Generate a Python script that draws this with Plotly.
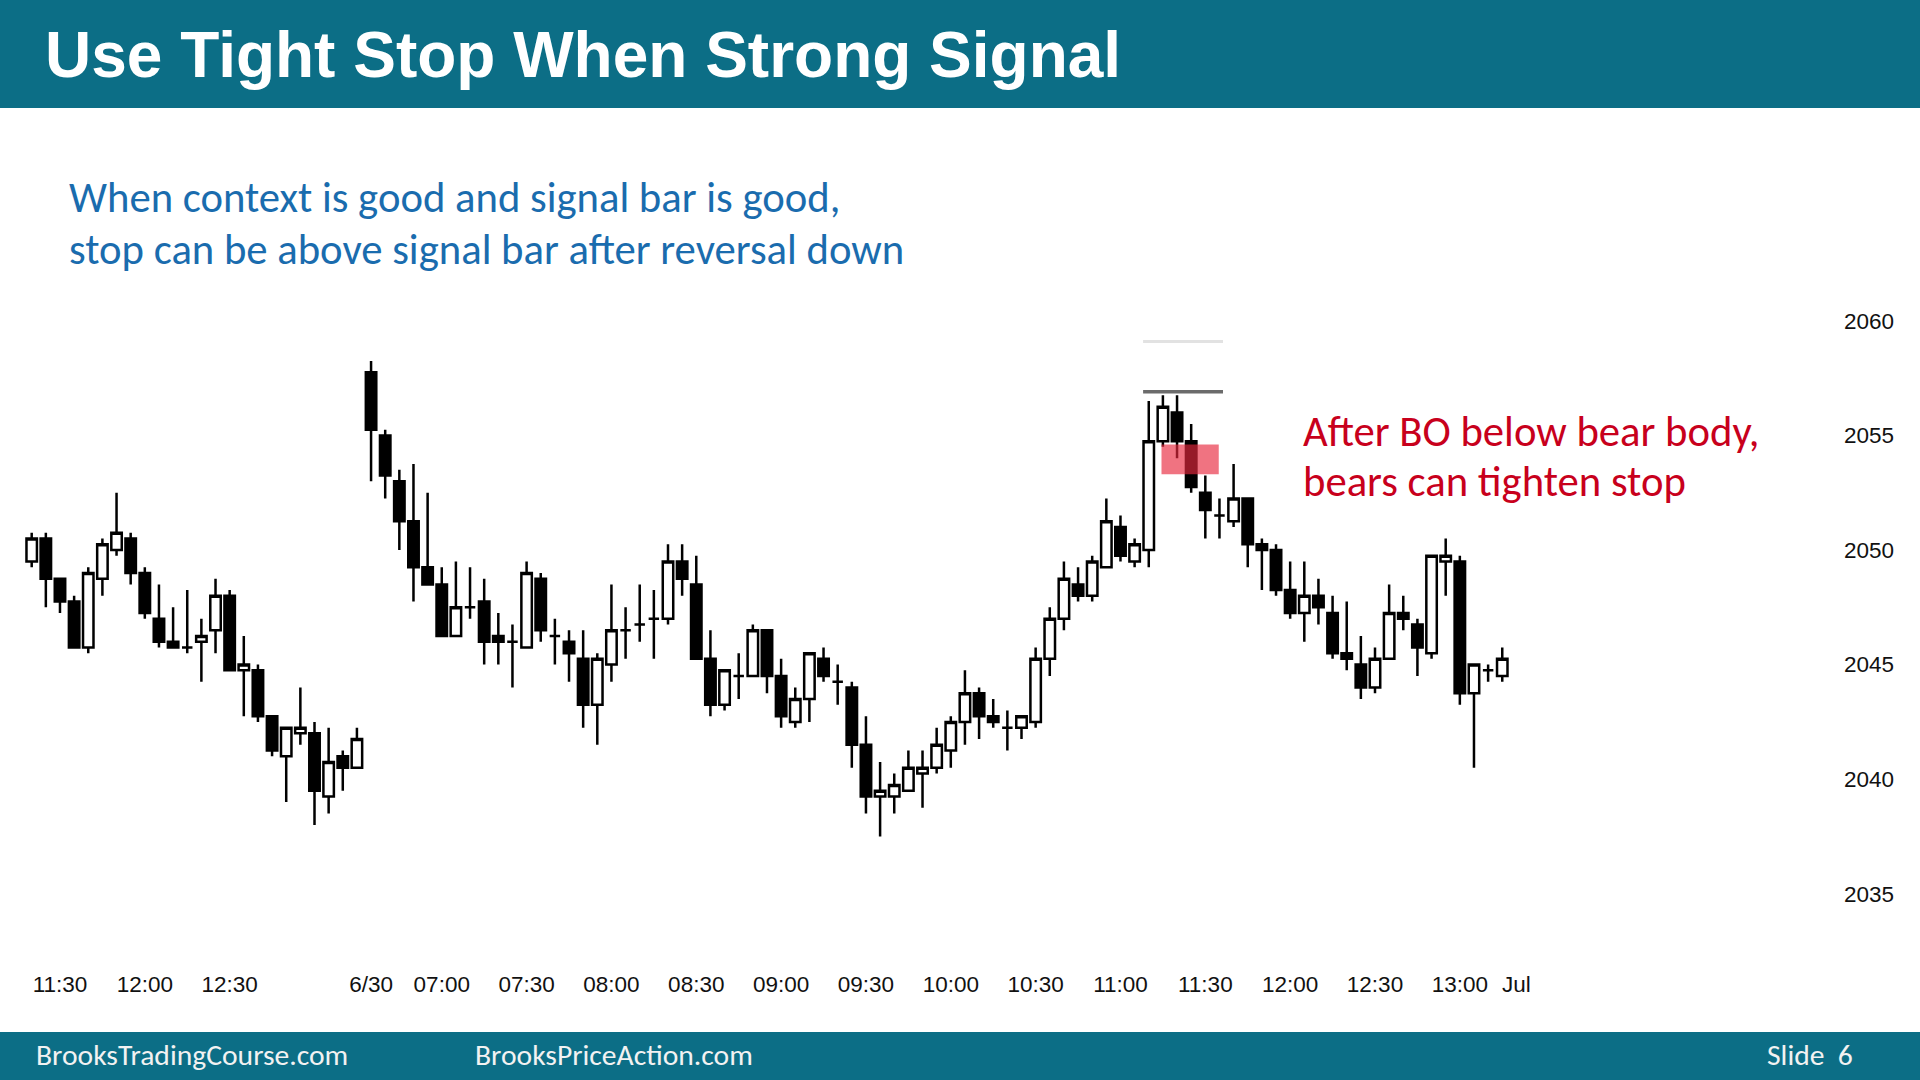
import pandas as pd
import plotly.graph_objects as go

# ---------------- data (5-minute bars) ----------------
opens = [2049.5, 2050.5, 2048.75, 2047.75, 2045.75, 2048.75, 2050.0, 2050.5, 2049.0, 2047.0,
         2046.0, 2045.75, 2046.0, 2046.5, 2048.0, 2044.75, 2044.75, 2042.75, 2041.0, 2042.0,
         2042.0, 2039.25, 2041.0, 2040.5,
         2057.75, 2055.0, 2053.0, 2051.25, 2049.25, 2048.5, 2046.25, 2047.5, 2047.75, 2046.25,
         2046.0, 2045.75, 2048.75, 2046.25, 2046.0, 2045.25, 2043.25, 2045.0, 2046.5, 2046.75,
         2047.0, 2047.0, 2049.5, 2048.5, 2045.25, 2043.25, 2044.5, 2044.5, 2046.5, 2044.5,
         2042.5, 2043.5, 2045.25, 2044.25, 2044.0, 2041.5, 2039.25, 2039.25, 2039.5, 2040.25,
         2040.5, 2041.25, 2042.5, 2043.75, 2042.75, 2042.25, 2042.25, 2042.5, 2045.25, 2047.0,
         2048.5, 2048.0, 2049.25, 2051.0, 2049.5, 2050.0, 2054.75, 2056.0, 2054.75, 2052.5,
         2051.5, 2051.25, 2052.25, 2050.25, 2050.0, 2048.25, 2047.25, 2048.0, 2047.25, 2045.5,
         2045.0, 2044.0, 2045.25, 2047.25, 2046.75, 2045.5, 2049.5, 2049.5, 2043.75, 2044.75,
         2044.5]
highs = [2050.75, 2050.75, 2048.75, 2048.0, 2049.25, 2050.5, 2052.5, 2050.75, 2049.25, 2048.5,
         2047.5, 2048.25, 2047.0, 2048.75, 2048.25, 2046.25, 2045.0, 2042.75, 2042.25, 2044.0,
         2042.5, 2042.25, 2041.25, 2042.25,
         2058.25, 2055.25, 2053.5, 2053.75, 2052.5, 2049.25, 2049.5, 2049.25, 2048.75, 2047.25,
         2046.75, 2049.5, 2049.0, 2047.0, 2046.5, 2046.5, 2045.5, 2048.5, 2047.5, 2048.5,
         2048.25, 2050.25, 2050.25, 2049.75, 2046.5, 2044.75, 2045.5, 2046.75, 2046.5, 2045.25,
         2044.0, 2045.5, 2045.75, 2045.0, 2044.25, 2042.75, 2040.75, 2040.25, 2041.25, 2041.25,
         2042.25, 2042.75, 2044.75, 2044.0, 2043.5, 2043.0, 2042.75, 2045.75, 2047.5, 2049.5,
         2049.25, 2049.75, 2052.25, 2051.5, 2050.5, 2056.5, 2056.75, 2056.75, 2055.5, 2053.25,
         2052.25, 2053.75, 2052.25, 2050.5, 2050.25, 2049.5, 2049.5, 2048.75, 2048.0, 2047.75,
         2046.25, 2045.75, 2048.5, 2048.0, 2047.0, 2049.75, 2050.5, 2049.75, 2045.0, 2045.0,
         2045.75]
lows = [2049.25, 2047.5, 2047.25, 2045.75, 2045.5, 2048.0, 2049.75, 2048.5, 2047.0, 2045.75,
        2045.75, 2045.5, 2044.25, 2045.5, 2044.75, 2042.75, 2042.5, 2041.0, 2039.0, 2041.5,
        2038.0, 2038.5, 2039.5, 2040.5,
        2053.0, 2052.25, 2050.0, 2047.75, 2048.5, 2046.25, 2046.25, 2047.0, 2045.0, 2045.0,
        2044.0, 2045.75, 2046.0, 2045.0, 2044.25, 2042.25, 2041.5, 2044.25, 2045.25, 2046.0,
        2045.25, 2046.75, 2048.0, 2045.25, 2042.75, 2043.0, 2043.5, 2044.5, 2043.75, 2042.25,
        2042.25, 2042.5, 2044.25, 2043.25, 2040.5, 2038.5, 2037.5, 2038.5, 2039.5, 2038.75,
        2040.25, 2040.5, 2041.5, 2041.75, 2042.25, 2041.25, 2041.75, 2042.25, 2044.5, 2046.5,
        2047.75, 2047.75, 2049.25, 2049.5, 2049.25, 2049.25, 2054.5, 2054.0, 2052.5, 2050.5,
        2050.5, 2051.0, 2049.25, 2048.25, 2048.0, 2047.0, 2046.0, 2046.75, 2045.25, 2044.75,
        2043.5, 2043.75, 2045.25, 2046.5, 2044.5, 2045.25, 2048.0, 2043.25, 2040.5, 2044.25,
        2044.25]
closes = [2050.5, 2048.75, 2047.75, 2045.75, 2049.0, 2050.25, 2050.75, 2049.0, 2047.25, 2046.0,
          2045.75, 2045.75, 2046.25, 2048.0, 2044.75, 2045.0, 2042.75, 2041.25, 2042.25, 2042.25,
          2039.5, 2040.75, 2040.5, 2041.75,
          2055.25, 2053.25, 2051.25, 2049.25, 2048.5, 2046.25, 2047.5, 2047.5, 2046.0, 2046.0,
          2046.0, 2049.0, 2046.5, 2046.25, 2045.5, 2043.25, 2045.25, 2046.5, 2046.5, 2046.75,
          2047.0, 2049.5, 2048.75, 2045.25, 2043.25, 2044.75, 2044.5, 2046.5, 2044.5, 2042.75,
          2043.5, 2045.5, 2044.5, 2044.25, 2041.5, 2039.25, 2039.5, 2039.75, 2040.5, 2040.5,
          2041.5, 2042.5, 2043.75, 2042.75, 2042.5, 2042.25, 2042.75, 2045.25, 2047.0, 2048.75,
          2048.0, 2049.5, 2051.25, 2049.75, 2050.25, 2054.75, 2056.25, 2054.75, 2052.75, 2051.75,
          2051.5, 2052.25, 2050.25, 2050.0, 2048.25, 2047.25, 2048.0, 2047.5, 2045.5, 2045.25,
          2044.0, 2045.25, 2047.25, 2047.0, 2045.75, 2049.75, 2049.75, 2043.75, 2045.0, 2044.75,
          2045.25]

sessions = [("2015-06-29 11:20", "2015-06-29 13:15"),
            ("2015-06-30 06:35", "2015-06-30 13:15")]

tick_times = ["2015-06-29 11:30", "2015-06-29 12:00", "2015-06-29 12:30",
              "2015-06-30 06:35", "2015-06-30 07:00", "2015-06-30 07:30", "2015-06-30 08:00",
              "2015-06-30 08:30", "2015-06-30 09:00", "2015-06-30 09:30", "2015-06-30 10:00",
              "2015-06-30 10:30", "2015-06-30 11:00", "2015-06-30 11:30", "2015-06-30 12:00",
              "2015-06-30 12:30", "2015-06-30 13:00", "2015-07-01 00:00"]
tick_labels = ["11:30", "12:00", "12:30", "6/30", "07:00", "07:30", "08:00", "08:30",
               "09:00", "09:30", "10:00", "10:30", "11:00", "11:30", "12:00", "12:30",
               "13:00", "Jul"]
y_ticks = [2035, 2040, 2045, 2050, 2055, 2060]

signal_bar = 81
stop_level = 2056.9
prior_stop_level = 2059.1
stop_line_span = (78.6, 84.25)
bo_zone_span = (79.9, 83.95)
bo_zone_prices = (2053.3, 2054.6)

# ---------------- build ----------------
times = pd.DatetimeIndex([])
for s, e in sessions:
    times = times.append(pd.date_range(s, e, freq="5min"))
bar_x = list(range(len(times)))
tick_pos = []
for t in tick_times:
    ts = pd.Timestamp(t)
    tick_pos.append(times.get_loc(ts) if ts in times else len(times))

W, H = 1920, 1080
ML, MR, MT, MB = 0, 90, 240, 112
PW, PH = W - ML - MR, H - MT - MB
BAR_PX = 14.14
x0 = -(31.7 - ML) / BAR_PX
x1 = x0 + PW / BAR_PX
PX_PER_PT = 22.92
y_top = 2060 + (320.8 - MT) / PX_PER_PT
y_bot = 2060 - (H - MB - 320.8) / PX_PER_PT


def px_x(px):
    return (px - ML) / PW


def px_y(py):
    return (H - MB - py) / PH


TEAL = "#0c6e86"
CAL = "Carlito, Calibri, Lato, sans-serif"
ARIAL = "Liberation Sans, Arial, sans-serif"

fig = go.Figure()
fig.add_trace(go.Candlestick(
    x=bar_x, open=opens, high=highs, low=lows, close=closes,
    increasing=dict(line=dict(color="black", width=2.5), fillcolor="white"),
    decreasing=dict(line=dict(color="black", width=2.5), fillcolor="black"),
    whiskerwidth=0, showlegend=False, hoverinfo="skip",
))

shapes = [
    dict(type="rect", xref="paper", yref="paper", x0=px_x(0), x1=px_x(W),
         y0=px_y(0), y1=px_y(108), fillcolor=TEAL, line=dict(width=0), layer="below"),
    dict(type="rect", xref="paper", yref="paper", x0=px_x(0), x1=px_x(W),
         y0=px_y(1032), y1=px_y(H), fillcolor=TEAL, line=dict(width=0), layer="below"),
    dict(type="line", xref="x", yref="y", x0=stop_line_span[0], x1=stop_line_span[1],
         y0=prior_stop_level, y1=prior_stop_level, line=dict(color="#e2e2e2", width=3)),
    dict(type="line", xref="x", yref="y", x0=stop_line_span[0], x1=stop_line_span[1],
         y0=stop_level, y1=stop_level, line=dict(color="#6b6b6b", width=3.5)),
    dict(type="rect", xref="x", yref="y", x0=bo_zone_span[0], x1=bo_zone_span[1],
         y0=bo_zone_prices[0], y1=bo_zone_prices[1],
         fillcolor="rgba(232,40,62,0.65)", line=dict(width=0), layer="above"),
]

ann = []


def text(s, px, py, size, color, family, xanchor="left"):
    ann.append(dict(text=s, xref="paper", yref="paper", x=px_x(px), y=px_y(py),
                    xanchor=xanchor, yanchor="middle", showarrow=False,
                    font=dict(size=size, color=color, family=family)))


text("<b>Use Tight Stop When Strong Signal</b>", 43, 55, 64, "white", ARIAL)
text("When context is good and signal bar is good,", 67, 197, 42.7, "#1a6cae", CAL)
text("stop can be above signal bar after reversal down", 67, 249, 42.7, "#1a6cae", CAL)
text("After BO below bear body,", 1301, 431, 42.7, "#c8001c", CAL)
text("bears can tighten stop", 1301, 481, 42.7, "#c8001c", CAL)
text("BrooksTradingCourse.com", 34, 1055, 29.6, "#f2f2f2", CAL)
text("BrooksPriceAction.com", 473, 1055, 29.6, "#f2f2f2", CAL)
text("Slide  6", 1765, 1055, 29.6, "#f2f2f2", CAL)

fig.update_layout(
    width=W, height=H,
    margin=dict(l=ML, r=MR, t=MT, b=MB, autoexpand=False),
    paper_bgcolor="white", plot_bgcolor="white",
    boxgap=0.14, boxgroupgap=0.14,
    shapes=shapes, annotations=ann,
    xaxis=dict(range=[x0, x1], tickmode="array", tickvals=tick_pos, ticktext=tick_labels,
               showgrid=False, zeroline=False, showline=False, ticks="",
               tickfont=dict(family=ARIAL, size=22.5, color="#111"),
               rangeslider=dict(visible=False), fixedrange=True),
    yaxis=dict(range=[y_bot, y_top], side="right", tickmode="array", tickvals=y_ticks,
               showgrid=False, zeroline=False, showline=False, ticks="",
               ticklabelstandoff=13,
               tickfont=dict(family=ARIAL, size=22.5, color="#111"), fixedrange=True),
    showlegend=False,
)

fig.write_html("out.html")
